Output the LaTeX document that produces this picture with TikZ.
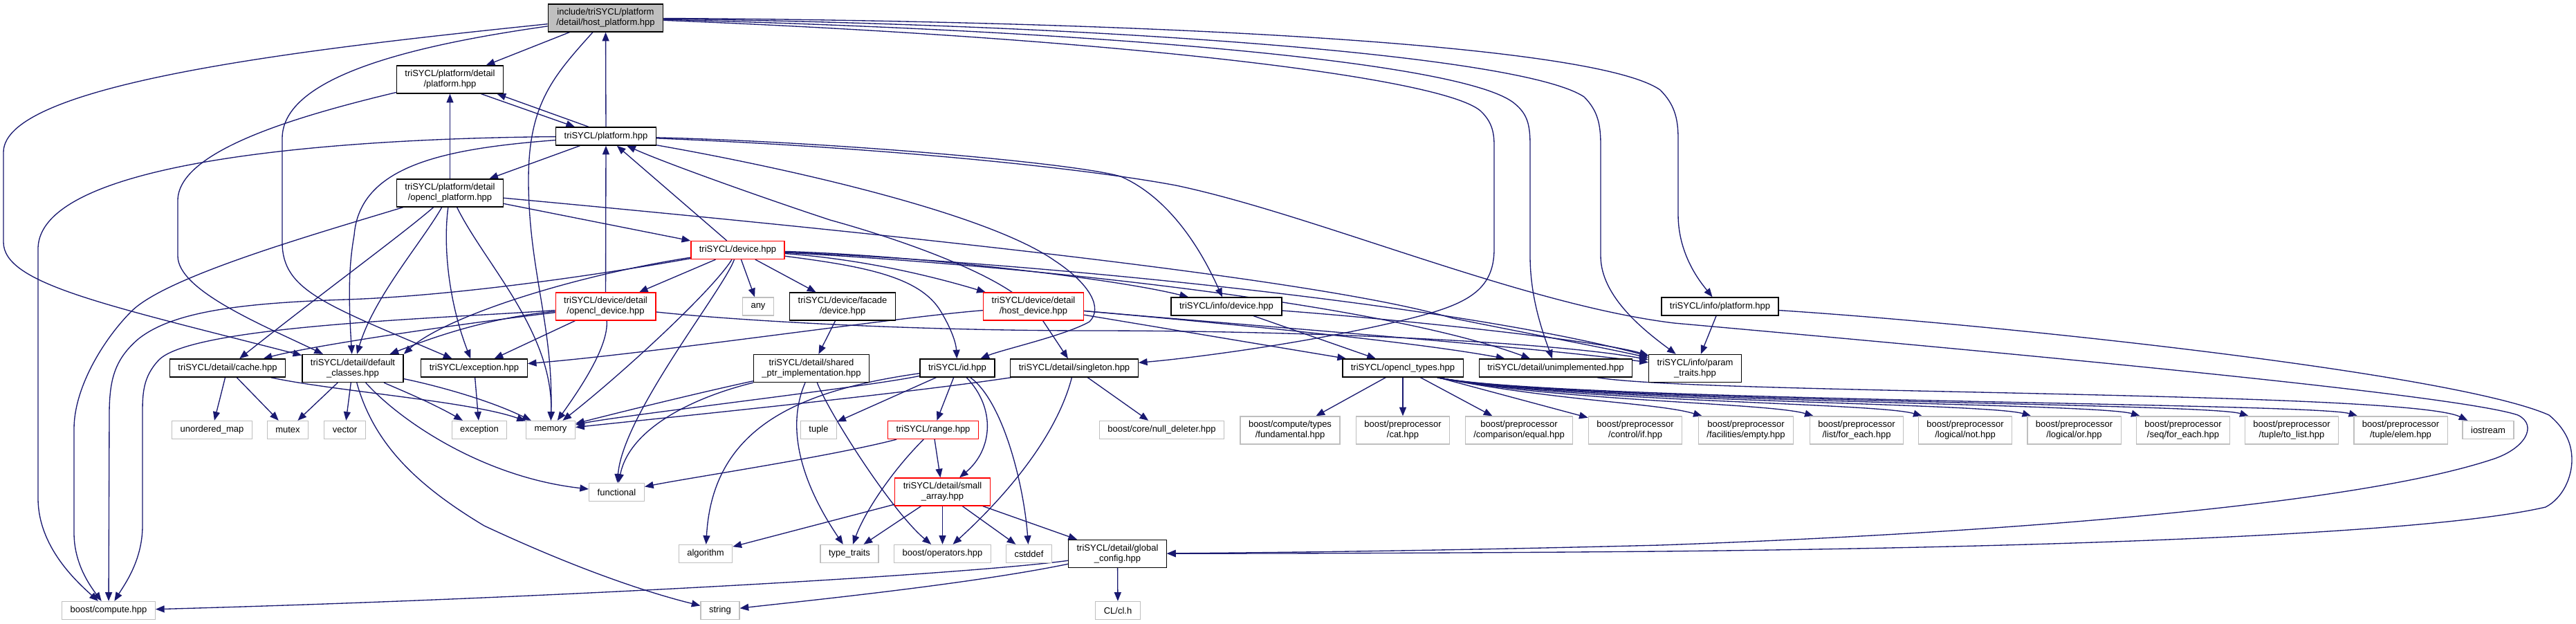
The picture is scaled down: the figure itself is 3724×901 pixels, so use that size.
\documentclass[tikz,border=0pt]{standalone}
\usepackage{fontspec}
\setmainfont{Liberation Sans}
\usetikzlibrary{arrows.meta,calc}
\definecolor{edgeblue}{HTML}{191970}
\definecolor{extgray}{HTML}{BFBFBF}
\definecolor{rootgray}{HTML}{BFBFBF}
\definecolor{redbox}{HTML}{FF0000}
\newcommand{\nfont}{\fontsize{9.75pt}{11.25pt}\selectfont}
\pgfdeclarelayer{bg}
\pgfsetlayers{bg,main}
\begin{document}
\begin{tikzpicture}[x=0.75pt,y=-0.75pt,
  nbox/.style={rectangle, inner xsep=9pt, inner ysep=0pt, minimum height=19.5pt, align=center, font=\nfont, fill=white, line width=1pt},
  tall/.style={minimum height=30pt},
  doc/.style={nbox, draw=black},
  ext/.style={nbox, draw=extgray},
  redn/.style={nbox, draw=redbox},
  rootn/.style={nbox, draw=black, fill=rootgray},
  arr/.style={draw=edgeblue, line width=1pt, -{Triangle[length=9.5pt,width=7.5pt]}}]
\useasboundingbox (0,0) rectangle (3724,901);

% nodes
\node[rootn,tall] (hp) at (875.5,26) {include/triSYCL/platform\\/detail/host\_platform.hpp};
\node[doc,tall] (dp) at (650.5,115) {triSYCL/platform/detail\\/platform.hpp};
\node[doc] (p) at (876,197) {triSYCL/platform.hpp};
\node[doc,tall] (op) at (650.5,279) {triSYCL/platform/detail\\/opencl\_platform.hpp};
\node[redn] (d) at (1066.5,361.5) {triSYCL/device.hpp};
\node[redn,tall] (od) at (875.5,443) {triSYCL/device/detail\\/opencl\_device.hpp};
\node[ext] (any) at (1096,443) {any};
\node[doc,tall] (fac) at (1218,443) {triSYCL/device/facade\\/device.hpp};
\node[redn,tall] (hd) at (1494,443) {triSYCL/device/detail\\/host\_device.hpp};
\node[doc] (idev) at (1773,443) {triSYCL/info/device.hpp};
\node[doc] (iplat) at (2486.5,443) {triSYCL/info/platform.hpp};
\node[doc] (cache) at (329,532) {triSYCL/detail/cache.hpp};
\node[doc,tall] (dc) at (510,532.5) {triSYCL/detail/default\\\_classes.hpp};
\node[doc] (exh) at (685.5,532) {triSYCL/exception.hpp};
\node[doc,tall] (sp) at (1173,532.5) {triSYCL/detail/shared\\\_ptr\_implementation.hpp};
\node[doc] (id) at (1384,532) {triSYCL/id.hpp};
\node[doc] (sing) at (1553,532) {triSYCL/detail/singleton.hpp};
\node[doc] (oct) at (2028,532) {triSYCL/opencl\_types.hpp};
\node[doc] (unimp) at (2249,532) {triSYCL/detail/unimplemented.hpp};
\node[doc,tall] (pt) at (2450.5,532.5) {triSYCL/info/param\\\_traits.hpp};
\node[ext] (umap) at (306.5,621.5) {unordered\_map};
\node[ext] (mutex) at (416,621.5) {mutex};
\node[ext] (vector) at (498.5,621.5) {vector};
\node[ext] (exc) at (693,621.5) {exception};
\node[ext] (memory) at (796,621.5) {memory};
\node[ext] (tuple) at (1183.5,621.5) {tuple};
\node[redn] (range) at (1349,621.5) {triSYCL/range.hpp};
\node[ext] (nulld) at (1679.5,621.5) {boost/core/null\_deleter.hpp};
\node[ext,tall] (fund) at (1865,622) {boost/compute/types\\/fundamental.hpp};
\node[ext,tall] (cat) at (2028,622) {boost/preprocessor\\/cat.hpp};
\node[ext,tall] (equal) at (2196,622) {boost/preprocessor\\/comparison/equal.hpp};
\node[ext,tall] (ifh) at (2364,622) {boost/preprocessor\\/control/if.hpp};
\node[ext,tall] (empty) at (2524,622) {boost/preprocessor\\/facilities/empty.hpp};
\node[ext,tall] (lfe) at (2684,622) {boost/preprocessor\\/list/for\_each.hpp};
\node[ext,tall] (lnot) at (2841,622) {boost/preprocessor\\/logical/not.hpp};
\node[ext,tall] (lor) at (2998.5,622) {boost/preprocessor\\/logical/or.hpp};
\node[ext,tall] (sfe) at (3156,622) {boost/preprocessor\\/seq/for\_each.hpp};
\node[ext,tall] (tl) at (3313,622) {boost/preprocessor\\/tuple/to\_list.hpp};
\node[ext,tall] (te) at (3470.5,622) {boost/preprocessor\\/tuple/elem.hpp};
\node[ext] (ios) at (3597,621.5) {iostream};
\node[ext] (func) at (891.5,711.5) {functional};
\node[redn,tall] (sa) at (1362.5,711) {triSYCL/detail/small\\\_array.hpp};
\node[ext] (alg) at (1020,800.5) {algorithm};
\node[ext] (tt) at (1228,800.5) {type\_traits};
\node[ext] (ops) at (1362.5,800.5) {boost/operators.hpp};
\node[ext] (cstd) at (1487.5,800.5) {cstddef};
\node[doc,tall] (gc) at (1615.5,800.5) {triSYCL/detail/global\\\_config.hpp};
\node[ext] (bc) at (157,882.5) {boost/compute.hpp};
\node[ext] (str) at (1041,882.5) {string};
\node[ext] (cl) at (1616,882.5) {CL/cl.h};

\begin{pgfonlayer}{bg}
% host_platform
\draw[arr] (hp) -- (dp);
\draw[arr] (hp) .. controls (800,110) and (764,150) .. (764,260) .. controls (764,390) and (800,470) .. (memory);
\draw[arr] (hp) .. controls (450,70) and (5,120) .. (5,220) -- (5,350) .. controls (5,410) and (150,440) .. (dc);
\draw[arr] (hp) .. controls (600,65) and (408,110) .. (408,200) -- (408,350) .. controls (408,420) and (470,440) .. (exh);
\draw[arr] (hp) .. controls (1600,30) and (2300,60) .. (2400,130) .. controls (2420,150) and (2426,170) .. (2426,200) -- (2426,310) .. controls (2426,370) and (2460,410) .. (iplat);
\draw[arr] (hp) .. controls (1600,36) and (2200,80) .. (2290,140) .. controls (2310,160) and (2314,180) .. (2314,210) -- (2314,370) .. controls (2314,430) and (2380,480) .. (pt);
\draw[arr] (hp) .. controls (1600,45) and (2120,90) .. (2190,150) .. controls (2208,165) and (2212,180) .. (2212,210) -- (2212,370) .. controls (2212,430) and (2230,480) .. (unimp);
\draw[arr] (hp) .. controls (1600,55) and (2080,110) .. (2140,160) .. controls (2156,175) and (2160,190) .. (2160,210) -- (2160,360) .. controls (2160,420) and (2120,440) .. (2040,460) .. controls (1900,495) and (1720,518) .. (sing);
% platform
\draw[arr] (p) -- (hp);
\draw[arr] ($(p.north)+(-25,0)$) -- ($(dp.south)+(68,0)$);
\draw[arr] ($(dp.south)+(45,0)$) -- ($(p.north)+(-45,0)$);
\draw[arr] (p) -- (op);
\draw[arr] (p) .. controls (500,200) and (55,230) .. (55,360) -- (55,720) .. controls (55,790) and (110,840) .. (bc);
\draw[arr] (p) .. controls (640,215) and (520,240) .. (512,340) .. controls (505,380) and (503,420) .. (dc);
\draw[arr] (p) .. controls (1200,205) and (1550,235) .. (1620,255) .. controls (1700,290) and (1745,380) .. (idev);
\draw[arr] (p) .. controls (1250,212) and (1550,240) .. (1700,268) .. controls (1900,310) and (2200,440) .. (2420,467) .. controls (2900,510) and (3550,570) .. (3640,600) .. controls (3670,615) and (3650,650) .. (3600,665) .. controls (3400,730) and (2900,770) .. (2400,788) .. controls (2050,797) and (1800,799) .. (gc);
\draw[arr] (p) .. controls (1150,245) and (1430,310) .. (1525,377) .. controls (1575,410) and (1595,445) .. (1575,465) .. controls (1540,485) and (1450,505) .. (id);
% platform/detail/platform
\draw[arr] (dp) .. controls (420,170) and (257,220) .. (257,290) -- (257,370) .. controls (257,420) and (380,470) .. (dc);
% opencl_platform
\draw[arr] (op) -- (dp);
\draw[arr] (op) -- (d);
\draw[arr] (op) .. controls (450,340) and (240,400) .. (190,450) .. controls (150,490) and (107,560) .. (107,620) -- (107,770) .. controls (107,810) and (125,840) .. (bc);
\draw[arr] (op) .. controls (580,340) and (470,420) .. (cache);
\draw[arr] (op) .. controls (610,350) and (540,430) .. (dc);
\draw[arr] (op) .. controls (640,360) and (650,440) .. (exh);
\draw[arr] (op) .. controls (700,380) and (800,480) .. (memory);
\draw[arr] (op) .. controls (1200,330) and (1900,400) .. (2100,460) .. controls (2250,490) and (2330,505) .. (pt);
% device
\draw[arr] (d) -- (p);
\draw[arr] (d) -- (od);
\draw[arr] (d) -- (any);
\draw[arr] (d) -- (fac);
\draw[arr] (d) .. controls (1250,375) and (1350,400) .. (hd);
\draw[arr] (d) .. controls (1300,368) and (1600,400) .. (idev);
\draw[arr] (d) .. controls (1250,385) and (1330,400) .. (1360,450) .. controls (1375,475) and (1382,495) .. (id);
\draw[arr] (d) .. controls (1030,420) and (900,540) .. (memory);
\draw[arr] (d) .. controls (1045,420) and (900,600) .. (func);
\draw[arr] (d) .. controls (820,400) and (640,460) .. (dc.north east);
\draw[arr] (d) .. controls (850,400) and (650,428) .. (500,433) .. controls (350,438) and (250,450) .. (200,490) .. controls (165,520) and (158,550) .. (158,600) -- (bc);
\draw[arr] (d) .. controls (1500,380) and (2100,440) .. (pt);
\draw[arr] (d) .. controls (1500,385) and (2000,440) .. (unimp);
% opencl_device
\draw[arr] (od) -- (p);
\draw[arr] (od) .. controls (700,460) and (620,490) .. (dc);
\draw[arr] (od) .. controls (650,470) and (450,500) .. (cache);
\draw[arr] (od) -- (exh);
\draw[arr] (od) .. controls (880,500) and (840,560) .. (memory);
\draw[arr] (od) .. controls (650,460) and (280,470) .. (230,520) .. controls (206,545) and (206,570) .. (206,600) -- (206,760) .. controls (206,810) and (180,845) .. (bc);
\draw[arr] (od) .. controls (1050,462) and (1300,478) .. (1580,478) .. controls (1900,478) and (2250,495) .. (pt);
% host_device
\draw[arr] (hd) .. controls (1400,380) and (1280,340) .. (1200,318) .. controls (1100,285) and (960,235) .. (p);
\draw[arr] (hd) .. controls (1300,458) and (950,510) .. (exh);
\draw[arr] (hd) -- (sing);
\draw[arr] (hd) -- (oct);
\draw[arr] (hd) .. controls (1800,470) and (2200,500) .. (pt);
\draw[arr] (hd) .. controls (1800,470) and (2050,495) .. (unimp);
% info
\draw[arr] (idev) .. controls (2000,460) and (2300,490) .. (pt);
\draw[arr] (idev) -- (oct);
\draw[arr] (iplat) -- (pt);
\draw[arr] (iplat) .. controls (2900,470) and (3550,540) .. (3685,600) .. controls (3715,625) and (3718,650) .. (3718,665) .. controls (3718,690) and (3705,720) .. (3680,733) .. controls (3500,775) and (2900,792) .. (2400,797) .. controls (2050,800) and (1800,800) .. (gc);
% facade
\draw[arr] (fac) -- (sp);
% cache
\draw[arr] (cache) -- (umap);
\draw[arr] (cache) -- (mutex);
\draw[arr] (cache) .. controls (480,565) and (680,580) .. (memory);
% default_classes
\draw[arr] (dc) -- (mutex);
\draw[arr] (dc) -- (vector);
\draw[arr] (dc) .. controls (570,560) and (620,580) .. (exc);
\draw[arr] (dc) .. controls (620,555) and (700,575) .. (memory);
\draw[arr] (dc) .. controls (580,610) and (700,690) .. (func);
\draw[arr] (dc) .. controls (540,640) and (600,700) .. (700,760) .. controls (850,830) and (950,860) .. (str);
% exception
\draw[arr] (exh) -- (exc);
% shared_ptr
\draw[arr] (sp) .. controls (1000,570) and (880,600) .. (memory);
\draw[arr] (sp) .. controls (1000,575) and (910,620) .. (func);
\draw[arr] (sp) .. controls (1135,620) and (1160,700) .. (tt);
\draw[arr] (sp) .. controls (1200,600) and (1290,740) .. (ops);
% id
\draw[arr] (id) -- (range);
\draw[arr] (id) .. controls (1440,590) and (1435,650) .. (sa);
\draw[arr] (id) .. controls (1450,580) and (1480,700) .. (cstd);
\draw[arr] (id) -- (tuple);
\draw[arr] (id) .. controls (1250,560) and (900,600) .. (memory);
\draw[arr] (id) .. controls (1150,565) and (1030,620) .. (alg);
% range
\draw[arr] (range) -- (sa);
\draw[arr] (range) .. controls (1290,680) and (1250,740) .. (tt);
\draw[arr] (range) .. controls (1200,660) and (1000,690) .. (func);
% small_array
\draw[arr] (sa) -- (alg);
\draw[arr] (sa) -- (tt);
\draw[arr] (sa) -- (ops);
\draw[arr] (sa) -- (cstd);
\draw[arr] (sa) -- (gc);
% singleton
\draw[arr] (sing) -- (nulld);
\draw[arr] (sing) .. controls (1525,640) and (1440,730) .. (ops);
\draw[arr] (sing) .. controls (1300,570) and (950,605) .. (memory);
% global_config
\draw[arr] (gc) .. controls (1400,830) and (800,865) .. (bc);
\draw[arr] (gc) .. controls (1400,845) and (1150,870) .. (str);
\draw[arr] (gc) -- (cl);
% opencl_types
\draw[arr] (oct) -- (fund);
\draw[arr] (oct) -- (cat);
\draw[arr] (oct) -- (equal);
\draw[arr] (oct) -- (ifh);
\draw[arr] ($(oct.south)+(50,0)$) .. controls (2250,580) and (2395,582) .. ($(empty.north west)+(6,0)$);
\draw[arr] ($(oct.south)+(50,0)$) .. controls (2250,580) and (2557,582) .. ($(lfe.north west)+(6,0)$);
\draw[arr] ($(oct.south)+(50,0)$) .. controls (2250,580) and (2714,582) .. ($(lnot.north west)+(6,0)$);
\draw[arr] ($(oct.south)+(50,0)$) .. controls (2250,580) and (2872,582) .. ($(lor.north west)+(6,0)$);
\draw[arr] ($(oct.south)+(50,0)$) .. controls (2250,580) and (3029,582) .. ($(sfe.north west)+(6,0)$);
\draw[arr] ($(oct.south)+(50,0)$) .. controls (2250,580) and (3187,582) .. ($(tl.north west)+(6,0)$);
\draw[arr] ($(oct.south)+(50,0)$) .. controls (2250,580) and (3344,582) .. ($(te.north west)+(6,0)$);
% unimplemented
\draw[arr] ($(unimp.south)+(60,0)$) .. controls (2450,570) and (3480,565) .. ($(ios.north west)+(8,0)$);
\end{pgfonlayer}
\end{tikzpicture}
\end{document}
